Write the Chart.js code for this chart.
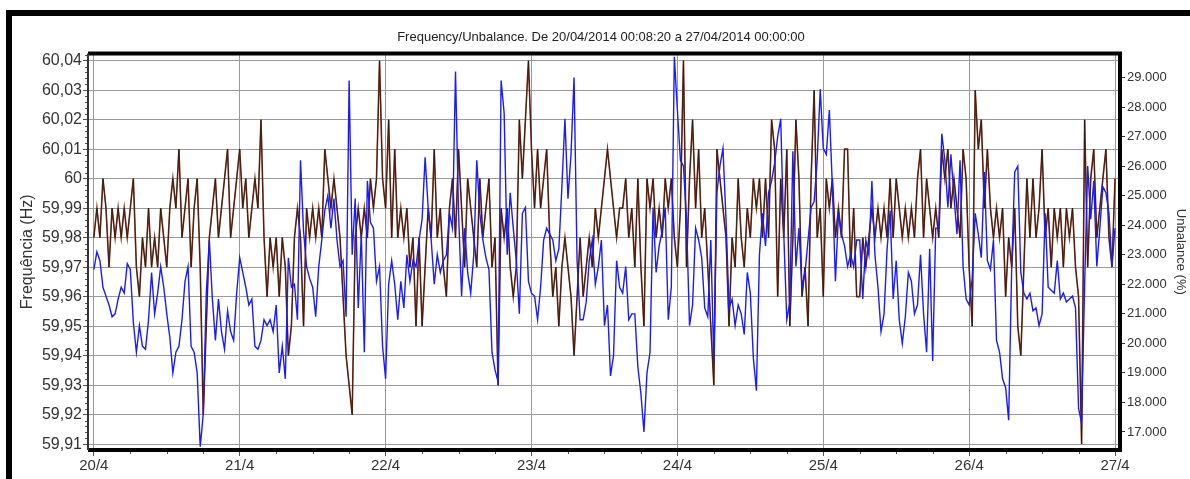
<!DOCTYPE html>
<html>
<head>
<meta charset="utf-8">
<script src="https://cdn.jsdelivr.net/npm/chart.js@4.4.1/dist/chart.umd.min.js"></script>
<style>
  html, body { margin: 0; padding: 0; background: #fff; }
  canvas { display: block; }
</style>
</head>
<body>
<canvas id="freqChart" width="1190" height="479"></canvas>
<script>
// one value every 30 min, starting 20/4 00:00
const SLOTS_PER_DAY = 48;

const dayLabels = ["20/4", "21/4", "22/4", "23/4", "24/4", "25/4", "26/4", "27/4"];

const freqTicks = [59.91, 59.92, 59.93, 59.94, 59.95, 59.96, 59.97, 59.98, 59.99, 60, 60.01, 60.02, 60.03, 60.04];
const freqTickLabels = ["59,91", "59,92", "59,93", "59,94", "59,95", "59,96", "59,97", "59,98", "59,99", "60", "60,01", "60,02", "60,03", "60,04"];

const unbTicks = [17, 18, 19, 20, 21, 22, 23, 24, 25, 26, 27, 28, 29];
const unbTickLabels = ["17.000", "18.000", "19.000", "20.000", "21.000", "22.000", "23.000", "24.000", "25.000", "26.000", "27.000", "28.000", "29.000"];

// Frequency (Hz), per day
const freqDay1 = [59.98,59.99,59.98,60.00,59.99,59.97,59.99,59.98,59.99,59.98,59.99,59.98,59.99,60.00,59.97,59.96,59.98,59.97,59.99,59.97,59.98,59.97,59.99,59.98,59.97,59.99,60.00,59.99,60.01,59.98,59.99,60.00,59.97,59.99,60.00,59.97,59.92,59.95,59.98,59.99,60.00,59.98,59.99,60.00,60.01,59.98,59.99,60.00];
const freqDay2 = [60.01,59.99,60.00,59.98,59.99,60.00,59.99,60.02,59.98,59.96,59.98,59.97,59.98,59.96,59.98,59.97,59.94,59.95,59.98,59.99,59.98,59.95,59.99,59.98,59.99,59.98,59.99,59.98,60.01,60.00,59.99,60.00,59.99,59.98,59.96,59.94,59.93,59.92,59.98,59.99,59.98,59.99,59.98,60.00,59.99,60.00,60.04,60.00];
const freqDay3 = [59.99,60.02,59.98,60.01,59.98,59.99,59.98,59.99,59.97,59.98,59.95,59.98,59.95,59.97,59.99,59.98,60.01,59.98,59.99,59.97,59.96,59.99,60.00,59.98,60.01,59.99,59.97,60.00,59.99,59.98,59.97,60.00,59.98,59.99,60.00,59.97,59.98,59.93,59.99,59.98,59.99,59.97,59.96,59.97,60.02,60.00,60.02,60.04];
const freqDay4 = [60.01,59.99,60.01,59.99,60.00,60.01,59.98,59.96,59.97,59.95,59.97,59.98,59.97,59.96,59.94,59.96,59.98,59.96,59.97,59.98,59.97,59.99,59.98,59.99,60.00,60.01,60.00,59.99,59.98,59.99,59.99,60.00,59.98,59.99,59.97,60.00,59.97,59.95,60.00,59.99,60.00,59.98,59.99,59.98,60.00,59.99,60.00,59.98];
const freqDay5 = [59.97,59.99,60.04,59.97,60.00,60.02,59.99,60.01,59.98,59.99,59.97,59.95,59.93,60.01,60.00,59.99,59.98,59.95,59.98,59.97,60.00,59.98,59.97,59.99,59.98,60.00,59.99,60.00,59.98,60.00,59.98,60.02,60.01,59.96,60.00,59.98,60.01,59.95,59.98,60.02,60.00,59.96,59.97,59.95,60.00,60.03,59.98,59.99];
const freqDay6 = [59.96,60.00,59.99,60.00,59.98,59.99,59.98,60.01,60.01,59.97,59.99,59.96,59.96,59.98,59.97,59.98,59.99,59.98,59.99,59.98,59.99,59.98,60.00,59.98,60.00,59.99,59.98,59.99,59.98,59.99,59.98,60.00,60.01,59.98,60.00,59.99,59.98,59.99,59.98,60.01,60.00,60.01,59.99,60.00,59.99,59.98,60.01,60.00];
const freqDay7 = [59.97,59.95,60.03,60.01,60.02,59.99,60.01,59.99,59.98,59.99,59.98,59.99,59.96,59.98,59.97,59.99,59.95,59.94,59.97,60.00,59.98,60.00,59.98,59.99,60.01,59.98,59.99,59.97,59.99,59.98,59.99,59.97,59.99,59.98,59.99,59.97,59.96,59.91,60.02,59.97,60.00,60.01,59.98,59.99,60.00,60.01,59.98,59.97,60.00];

// Unbalance (%), per day
const unbDay1 = [22.5,23.1,22.8,21.9,21.6,21.3,20.9,21.0,21.5,21.9,21.7,22.7,22.5,20.7,19.7,20.6,19.9,19.8,20.8,22.4,21.0,21.7,22.6,21.9,21.0,20.2,19.0,19.7,19.9,20.8,22.1,22.6,19.9,19.7,19.0,16.5,17.6,21.7,23.5,21.5,20.1,21.5,20.4,19.8,21.1,20.4,20.1,21.7];
const unbDay2 = [22.9,22.4,21.9,21.3,21.5,19.9,19.8,20.1,20.8,20.6,20.8,20.4,21.3,19.0,19.9,18.8,22.9,21.9,22.0,20.8,26.2,23.8,22.6,22.2,21.9,20.9,22.6,23.5,24.5,25.0,23.9,24.9,23.5,22.6,22.8,20.9,28.9,23.0,24.9,21.2,23.7,19.7,25.5,24.1,23.9,22.1,22.6,19.9];
const unbDay3 = [18.8,22.0,22.8,22.0,20.8,22.1,21.2,23.0,22.1,22.8,22.6,23.5,24.2,26.3,24.6,23.5,22.0,23.0,22.4,22.8,23.0,24.4,23.9,29.2,24.4,21.6,23.9,22.4,21.7,23.0,26.2,24.4,23.5,22.9,22.5,19.7,19.1,18.7,28.9,27.8,23.0,25.1,23.9,22.8,21.0,24.4,24.6,22.1];
const unbDay4 = [21.7,21.6,20.8,21.9,23.5,23.9,23.7,23.5,22.8,23.2,25.3,27.6,24.9,26.4,29.0,22.8,20.8,20.8,21.4,22.8,23.5,22.0,22.6,23.5,20.6,21.3,18.9,19.6,22.8,21.9,21.7,22.6,20.8,21.0,21.0,19.2,18.3,17.0,19.0,19.7,24.6,22.4,23.3,23.8,24.6,20.8,21.9,29.7];
const unbDay5 = [27.9,26.2,26.0,24.2,20.6,21.3,23.9,23.5,22.9,21.2,20.9,23.5,19.3,25.1,26.0,26.6,24.2,21.2,21.5,20.6,21.3,21.0,20.3,22.4,21.7,19.5,18.4,23.0,24.4,23.3,25.1,25.5,26.1,27.0,27.6,23.7,20.8,21.4,26.5,22.6,23.9,21.9,22.4,23.5,24.6,24.8,26.2,28.6];
const unbDay6 = [26.6,26.4,27.9,25.3,22.1,24.4,23.7,23.3,22.6,23.0,22.6,23.5,23.5,21.5,23.5,23.0,25.5,23.0,21.9,20.4,21.0,23.2,24.5,21.5,22.8,20.8,20.0,20.9,22.4,22.1,21.0,21.3,23.0,21.0,19.7,23.2,19.4,23.9,23.9,27.1,26.2,24.6,26.4,25.0,23.7,26.2,22.6,21.5];
const unbDay7 = [21.3,22.2,24.4,23.7,22.9,25.8,22.8,22.5,23.5,20.1,19.7,18.8,18.5,17.4,22.6,25.8,26.0,22.4,21.7,21.5,21.7,21.1,21.2,20.6,21.0,24.4,21.9,21.8,21.7,22.8,21.5,21.7,21.4,21.5,21.6,21.2,17.8,17.3,22.0,26.0,24.2,25.5,22.6,23.9,25.3,25.1,24.4,22.6,23.9];

const freqHz = [...freqDay1, ...freqDay2, ...freqDay3, ...freqDay4, ...freqDay5, ...freqDay6, ...freqDay7];
const unbalance = [...unbDay1, ...unbDay2, ...unbDay3, ...unbDay4, ...unbDay5, ...unbDay6, ...unbDay7];

const toPoints = (arr) => arr.map((v, i) => ({ x: i / SLOTS_PER_DAY, y: v }));

Chart.defaults.font.family = "'Liberation Sans', Arial, sans-serif";
Chart.defaults.color = "#333";

const frameLines = {
  id: "frameLines",
  afterDraw(chart) {
    const { ctx, chartArea: a, scales } = chart;
    ctx.save();
    // page frame
    ctx.fillStyle = "#000";
    ctx.fillRect(6, 10, 1184, 6);
    ctx.fillRect(6, 10, 6, 469);

    // minor ticks on the frequency axis (every 0.002 Hz)
    ctx.strokeStyle = "#555";
    ctx.lineWidth = 1;
    ctx.beginPath();
    for (let k = -1; k <= 66; k++) {
      if (k % 5 === 0) continue;
      const py = Math.round(scales.y.getPixelForValue(59.91 + k * 0.002)) + 0.5;
      if (py < a.top || py > a.bottom) continue;
      ctx.moveTo(a.left - 3, py);
      ctx.lineTo(a.left, py);
    }
    // minor ticks on the time axis (every 6 h)
    for (let k = 0; k <= 28; k++) {
      if (k % 4 === 0) continue;
      const px = Math.round(scales.x.getPixelForValue(k / 4)) + 0.5;
      ctx.moveTo(px, a.bottom);
      ctx.lineTo(px, a.bottom + 4);
    }
    ctx.stroke();

    // plot border
    ctx.strokeStyle = "#000";
    ctx.lineWidth = 4;
    ctx.beginPath();
    ctx.moveTo(a.left, a.top);
    ctx.lineTo(a.right, a.top);
    ctx.lineTo(a.right, a.bottom);
    ctx.lineTo(a.left, a.bottom);
    ctx.stroke();
    ctx.strokeStyle = "#333";
    ctx.lineWidth = 2;
    ctx.beginPath();
    ctx.moveTo(a.left, a.top);
    ctx.lineTo(a.left, a.bottom);
    ctx.stroke();
    ctx.restore();
  }
};

new Chart(document.getElementById("freqChart"), {
  type: "line",
  data: {
    datasets: [
      {
        label: "Unbalance (%)",
        data: toPoints(unbalance),
        yAxisID: "y1",
        borderColor: "#1a1aff",
        borderWidth: 1.4,
        pointRadius: 0,
        tension: 0,
        order: 0
      },
      {
        label: "Frequência",
        data: toPoints(freqHz),
        yAxisID: "y",
        borderColor: "#111",
        borderWidth: 0.6,
        pointRadius: 0,
        tension: 0,
        order: 1
      },
      {
        label: "Frequência (Hz)",
        data: toPoints(freqHz),
        yAxisID: "y",
        borderColor: "#86361f",
        borderWidth: 1.6,
        pointRadius: 0,
        tension: 0,
        order: 2
      }
    ]
  },
  options: {
    responsive: false,
    devicePixelRatio: 1,
    animation: false,
    layout: { padding: { left: 12, right: 0, top: 0, bottom: 0 } },
    plugins: {
      legend: { display: false },
      tooltip: { enabled: false },
      title: {
        display: true,
        text: "Frequency/Unbalance. De 20/04/2014 00:08:20 a 27/04/2014 00:00:00",
        color: "#222",
        font: { size: 13, weight: "normal", lineHeight: 1.2 },
        padding: { top: 30, bottom: 8 }
      }
    },
    scales: {
      x: {
        type: "linear",
        min: -0.04,
        max: 7.034,
        afterBuildTicks: (s) => { s.ticks = dayLabels.map((_, i) => ({ value: i })); },
        afterFit: (s) => { s.height = 29; },
        ticks: {
          callback: (v, i) => dayLabels[i],
          font: { size: 15 },
          color: "#333",
          padding: 1,
          maxRotation: 0,
          autoSkip: false
        },
        grid: { color: "#9a9a9a", lineWidth: 1, tickLength: 6, tickColor: "#555" },
        border: { display: false }
      },
      y: {
        position: "left",
        min: 59.908,
        max: 60.0424,
        afterBuildTicks: (s) => { s.ticks = freqTicks.map((v) => ({ value: v })); },
        afterFit: (s) => { s.width = 76; },
        ticks: {
          callback: (v, i) => freqTickLabels[i],
          font: { size: 16 },
          color: "#333",
          padding: 1,
          autoSkip: false
        },
        grid: { color: "#9a9a9a", lineWidth: 1, tickLength: 5, tickColor: "#555" },
        border: { display: false },
        title: {
          display: true,
          text: "Frequência (Hz)",
          font: { size: 16 },
          color: "#333",
          padding: { top: 6, bottom: 0 }
        }
      },
      y1: {
        position: "right",
        min: 16.39,
        max: 29.81,
        afterBuildTicks: (s) => { s.ticks = unbTicks.map((v) => ({ value: v })); },
        afterFit: (s) => { s.width = 70; },
        ticks: {
          callback: (v, i) => unbTickLabels[i],
          font: { size: 13 },
          color: "#333",
          padding: 2,
          autoSkip: false
        },
        grid: { drawOnChartArea: false, tickLength: 5, tickColor: "#333" },
        border: { display: false },
        title: {
          display: true,
          text: "Unbalance (%)",
          font: { size: 13 },
          color: "#333",
          padding: { top: 2, bottom: 0 }
        }
      }
    }
  },
  plugins: [frameLines]
});
</script>
</body>
</html>
